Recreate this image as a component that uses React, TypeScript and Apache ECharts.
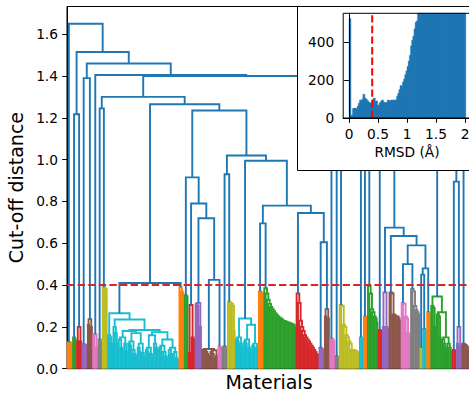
import React, { useEffect, useRef } from "react";
import * as echarts from "echarts";

type TreeNode = 0 | [number, TreeNode, TreeNode];

// ---------- data ----------
const THRESHOLD = 0.4;
const Y_MAX = 1.7325;
const Y_TICKS = [0, 0.2, 0.4, 0.6, 0.8, 1.0, 1.2, 1.4, 1.6];
const INSET_X_TICKS = [0, 0.5, 1, 1.5, 2];
const INSET_Y_TICKS = [0, 200, 400];
const INSET_Y_MAX = 552;
const HIST_BIN_START = 0;
const HIST_BIN_WIDTH = 0.02;
const HIST_COUNTS = [
  525, 12, 15, 50, 52, 50, 48, 62, 78, 95,
  88, 100, 125, 105, 100, 92, 85, 80, 78, 70,
  98, 105, 85, 90, 65, 68, 80, 88, 95, 85,
  78, 82, 80, 95, 92, 88, 95, 94, 90, 96,
  92, 115, 130, 150, 172, 162, 190, 205, 228, 248,
  272, 300, 330, 380, 410, 432, 470, 505, 512, 555,
  590, 620, 660, 700, 730, 770, 810, 840, 880, 910,
  950, 980, 1010, 1040, 1070, 1100, 1120, 1150, 1170, 1190,
  1210, 1230, 1240, 1250, 1260, 1270, 1270, 1280, 1280, 1280,
  1270, 1270, 1260, 1250, 1240, 1230, 1210, 1190, 1170, 1150,
];

const PALETTE = ["#ff7f0e", "#2ca02c", "#d62728", "#9467bd", "#8c564b", "#e377c2", "#7f7f7f", "#bcbd22", "#17becf"];
const ABOVE_COLOR = "#1f77b4";

// a staircase of merges: first height joins the leftmost leaf to the rest
function chain(heights: number[]): TreeNode {
  let node: TreeNode = 0;
  for (let i = heights.length - 1; i >= 0; i--) {
    node = i === heights.length - 1 ? [heights[i], 0, 0] : [heights[i], 0, node];
  }
  return node;
}

// clusters below the cut-off (left to right)
const orange1 = chain([0.127, 0.125, 0.12]);
const green1 = chain([0.15, 0.14]);
const red1: TreeNode = [0.2, [0.13, 0, 0], [0.13, 0, 0]];
const purple1 = chain([0.117, 0.115, 0.11]);
const brown1: TreeNode = [0.237, [0.21, 0, 0], [0.2, 0, 0]];
const pink1: TreeNode = [0.165, [0.16, 0, 0], [0.1, 0, 0]];
const gray1 = chain([0.14, 0.13]);
const olive1 = chain([0.39, 0.385, 0.38]);
const cyan1: TreeNode = [0.265,
  chain([0.16, 0.15, 0.12]),
  [0.235,
    chain([0.2, 0.17, 0.12]),
    [0.185,
      [0.18,
        [0.15, chain([0.14, 0.1, 0.09]), chain([0.12, 0.08])],
        [0.17, [0.13, chain([0.12, 0.11]), chain([0.09, 0.07, 0.06])], [0.12, chain([0.1, 0.08]), chain([0.075, 0.06])]]],
      [0.175,
        [0.16, [0.1, chain([0.09, 0.08]), chain([0.07, 0.06])], chain([0.12, 0.1, 0.09])],
        [0.14, [0.11, chain([0.1, 0.08]), chain([0.08, 0.06, 0.05])], [0.1, chain([0.09, 0.07, 0.06]), chain([0.08, 0.05, 0.04])]]]]]];
const orange2 = chain([0.39, 0.37, 0.36]);
const green2 = chain([0.35, 0.345]);
const red2: TreeNode = [0.305, [0.075, 0, 0], [0.15, 0, [0.14, 0, 0]]];
const purple2: TreeNode = [0.315, chain([0.31, 0.3]), [0.2, 0, 0]];
const brown2: TreeNode = [0.094, chain([0.09, 0.085, 0.08, 0.07, 0.06]), [0.088, chain([0.08, 0.07, 0.05]), [0.06, 0, 0]]];
const pink2 = chain([0.107, 0.1]);
const gray2: TreeNode = [0.107, [0.1, 0, 0], [0.09, 0, 0]];
const olive2 = chain([0.32, 0.315, 0.31, 0.3, 0.18]);
const cyan2: TreeNode = [0.24,
  [0.15, chain([0.14, 0.13]), chain([0.12, 0.1])],
  [0.21, [0.14, chain([0.13, 0.12]), chain([0.1, 0.09])], [0.12, chain([0.11, 0.1]), [0.1, 0, 0]]]];
const orange3 = chain([0.37, 0.365, 0.36]);
const green3 = chain([0.385, 0.36, 0.33, 0.31, 0.295, 0.285, 0.275, 0.265, 0.258, 0.25, 0.245, 0.24, 0.235, 0.23, 0.228, 0.225, 0.222, 0.22, 0.218, 0.215, 0.212, 0.21, 0.2]);
const red3 = chain([0.36, 0.315, 0.23, 0.2, 0.18, 0.16, 0.15, 0.14, 0.13, 0.12, 0.11, 0.1, 0.09, 0.08, 0.07, 0.065]);
const purple3 = chain([0.1, 0.095, 0.09]);
const brown3: TreeNode = [0.285, [0.25, 0, 0], [0.24, 0, 0]];
const pink3 = chain([0.145, 0.14, 0.13]);
const gray3 = chain([0.06, 0.055]);
const olive3 = chain([0.305, 0.3, 0.21, 0.2, 0.16, 0.15, 0.13, 0.12, 0.09, 0.09, 0.088, 0.085, 0.08, 0.075]);
const cyan3 = chain([0.15, 0.14]);
const orange4 = chain([0.25, 0.245]);
const green4 = chain([0.395, 0.36, 0.285, 0.27, 0.25, 0.24, 0.22]);
const red4 = chain([0.185, 0.18]);
const purple4: TreeNode = [0.365, [0.2, 0, 0], chain([0.2, 0.19])];
const brown4 = chain([0.365, 0.36, 0.26, 0.255, 0.25, 0.25, 0.24, 0.23]);
const pink4 = chain([0.315, 0.31, 0.25, 0.24, 0.17, 0.16]);
const gray4 = chain([0.38, 0.37, 0.3, 0.28, 0.27, 0.26]);
const olive4: TreeNode = [0.1, 0, 0];
const cyan4 = chain([0.19, 0.185]);
const orange5 = chain([0.27, 0.265]);
const green5: TreeNode = [0.345, chain([0.3, 0.29, 0.2]), [0.27, chain([0.26, 0.25, 0.15]), [0.15, chain([0.14, 0.12, 0.1]), chain([0.12, 0.1, 0.08])]]];
const red5 = chain([0.09, 0.085]);
const purple5: TreeNode = [0.2, [0.12, 0, 0], [0.11, 0, 0]];
const brown5 = chain([0.12, 0.115, 0.11, 0.1, 0.09, 0.08]);

// merges above the cut-off
const nodeP: TreeNode = [0.425, brown2, pink2];
const nodeO: TreeNode = [0.72, purple2, nodeP];
const nodeN: TreeNode = [0.79, red2, nodeO];
const nodeL: TreeNode = [0.915, green2, nodeN];
const nodeS: TreeNode = [0.93, gray2, olive2];
const nodeY: TreeNode = [0.605, purple3, brown3];
const nodeX: TreeNode = [0.745, red3, nodeY];
const nodeW: TreeNode = [0.695, orange3, green3];
const nodeV: TreeNode = [0.78, nodeW, nodeX];
const nodeT: TreeNode = [0.995, cyan2, nodeV];
const nodeM: TreeNode = [1.02, nodeS, nodeT];
const nodeK: TreeNode = [1.235, nodeL, nodeM];
const nodeJ: TreeNode = [0.41, cyan1, orange2];
const nodeI: TreeNode = [1.265, nodeJ, nodeK];
const nodeH: TreeNode = [1.245, gray1, olive1];
const nodeF: TreeNode = [1.3, nodeH, nodeI];
const nodeEE: TreeNode = [0.5, pink4, gray4];
const nodeDD: TreeNode = [0.48, [0.45, olive4, cyan4], orange5];
const nodeCC: TreeNode = [0.59, nodeEE, nodeDD];
const nodeBB: TreeNode = [0.635, brown4, nodeCC];
const nodeAA: TreeNode = [0.675, purple4, nodeBB];
const nodeFF: TreeNode = [0.895, red5, purple5];
const nodeG3: TreeNode = [1.25,
  [1.15, [1.05, cyan3, orange4], [1.0, green4, red4]],
  [1.2, nodeAA, [1.1, green5, [1.0, nodeFF, brown5]]]];
const nodeG: TreeNode = [1.38, pink3, [1.3, [1.2, gray3, olive3], nodeG3]];
const nodeE: TreeNode = [1.4, nodeF, nodeG];
const nodeD: TreeNode = [1.405, pink1, nodeE];
const nodeC: TreeNode = [1.39, purple1, brown1];
const nodeB: TreeNode = [1.46, nodeC, nodeD];
const nodeA: TreeNode = [1.217, green1, red1];
const nodeR1: TreeNode = [1.515, nodeA, nodeB];
const ROOT: TreeNode = [1.65, orange1, nodeR1];

function layoutTree(root: TreeNode) {
  const links: number[][] = [];
  let leafIndex = 0;
  let clusterCount = 0;
  function walk(node: TreeNode, colorIdx: number): { x: number; y: number } {
    if (node === 0) {
      const x = leafIndex + 0.5;
      leafIndex++;
      return { x, y: 0 };
    }
    const [h, l, r] = node;
    let c = colorIdx;
    if (h < THRESHOLD && c < 0) {
      c = clusterCount % PALETTE.length;
      clusterCount++;
    }
    const a = walk(l, c);
    const b = walk(r, c);
    links.push([a.x, a.y, b.x, b.y, h, h < THRESHOLD ? c : -1]);
    return { x: (a.x + b.x) / 2, y: h };
  }
  walk(root, -1);
  return { links, n: leafIndex };
}

const FONT = "DejaVu Sans";

export default function App() {
  const ref = useRef<HTMLDivElement>(null);
  useEffect(() => {
    if (!ref.current) return;
    const chart = echarts.init(ref.current, null, { renderer: "svg" });
    const { links, n } = layoutTree(ROOT);
    const histData = HIST_COUNTS.map((c, i) => [HIST_BIN_START + i * HIST_BIN_WIDTH, c]);

    const option: any = {
      animation: false,
      backgroundColor: "#fff",
      textStyle: { fontFamily: FONT, color: "#000" },
      grid: [
        { left: 67, right: -2, top: 6.5, bottom: 25.3, outerBoundsMode: "none", containLabel: false, show: true, borderColor: "#000", borderWidth: 1, backgroundColor: "transparent" },
        { left: 343.2, right: -1.8, top: 13.3, bottom: 276, outerBoundsMode: "none", containLabel: false, show: true, borderColor: "#000", borderWidth: 1, backgroundColor: "transparent", z: 65 },
      ],
      xAxis: [
        {
          type: "value", gridIndex: 0, min: 0, max: n,
          axisLine: { show: true, lineStyle: { color: "#000", width: 1 } },
          axisTick: { show: false }, axisLabel: { show: false }, splitLine: { show: false },
          name: "Materials", nameLocation: "middle", nameGap: 4,
          nameTextStyle: { fontFamily: FONT, fontSize: 19, color: "#000" },
        },
        {
          type: "value", gridIndex: 1, min: -0.1, max: 2.1, z: 61,
          axisLine: { show: true, lineStyle: { color: "#000", width: 1 } },
          axisTick: { show: true, length: 4.8, customValues: INSET_X_TICKS, lineStyle: { color: "#000", width: 1 } },
          axisLabel: {
            customValues: INSET_X_TICKS, margin: 8.5, fontSize: 13.75, fontFamily: FONT, color: "#000",
            formatter: (v: number) => String(+(+v).toFixed(2)),
          },
          splitLine: { show: false },
          name: "RMSD (Å)", nameLocation: "middle", nameGap: 27,
          nameTextStyle: { fontFamily: FONT, fontSize: 13.75, color: "#000" },
        },
      ],
      yAxis: [
        {
          type: "value", gridIndex: 0, min: 0, max: Y_MAX, interval: 0.2,
          axisLine: { show: true, lineStyle: { color: "#000", width: 1 } },
          axisTick: { show: true, length: 4.8, customValues: Y_TICKS, lineStyle: { color: "#000", width: 1 } },
          axisLabel: {
            customValues: Y_TICKS, margin: 9, fontSize: 13.75, fontFamily: FONT, color: "#000",
            formatter: (v: number) => (+v).toFixed(1),
          },
          splitLine: { show: false },
          name: "Cut-off distance", nameLocation: "middle", nameGap: 37, nameRotate: 90,
          nameTextStyle: { fontFamily: FONT, fontSize: 19, color: "#000" },
        },
        {
          type: "value", gridIndex: 1, min: 0, max: INSET_Y_MAX, interval: 200, z: 61,
          axisLine: { show: true, lineStyle: { color: "#000", width: 1 } },
          axisTick: { show: true, length: 4.8, customValues: INSET_Y_TICKS, lineStyle: { color: "#000", width: 1 } },
          axisLabel: {
            customValues: INSET_Y_TICKS, margin: 9, fontSize: 13.75, fontFamily: FONT, color: "#000",
          },
          splitLine: { show: false },
        },
      ],
      graphic: [
        {
          type: "rect", z: 50, silent: true,
          shape: { x: 297.5, y: 6.5, width: 190, height: 164 },
          style: { fill: "#fff", stroke: "#000", lineWidth: 1 },
        },
      ],
      series: [
        {
          type: "custom",
          xAxisIndex: 0, yAxisIndex: 0,
          silent: true, z: 3,
          data: links,
          renderItem: (_p: any, api: any) => {
            const xl = api.value(0), yl = api.value(1), xr = api.value(2), yr = api.value(3), h = api.value(4), ci = api.value(5);
            const pts = [api.coord([xl, yl]), api.coord([xl, h]), api.coord([xr, h]), api.coord([xr, yr])];
            return {
              type: "polyline",
              shape: { points: pts },
              style: { stroke: ci < 0 ? ABOVE_COLOR : PALETTE[ci], lineWidth: 1.9, fill: null },
            };
          },
        },
        {
          type: "line", xAxisIndex: 0, yAxisIndex: 0, silent: true, z: 4,
          symbol: "none",
          data: [[0, THRESHOLD], [n, THRESHOLD]],
          lineStyle: { color: "#d62728", width: 2, type: [7.4, 3.2] },
        },
        {
          type: "custom", xAxisIndex: 1, yAxisIndex: 1, silent: true, z: 60,
          data: histData,
          renderItem: (_p: any, api: any) => {
            const x0 = api.value(0), c = api.value(1);
            const top = Math.min(c, INSET_Y_MAX);
            const p0 = api.coord([x0, top]);
            const p1 = api.coord([x0 + HIST_BIN_WIDTH, 0]);
            return {
              type: "rect",
              shape: { x: p0[0], y: p0[1], width: p1[0] - p0[0] + 0.8, height: p1[1] - p0[1] },
              style: { fill: ABOVE_COLOR, stroke: ABOVE_COLOR, lineWidth: 0.4 },
            };
          },
        },
        {
          type: "line", xAxisIndex: 1, yAxisIndex: 1, silent: true, z: 62,
          symbol: "none",
          data: [[THRESHOLD, 0], [THRESHOLD, INSET_Y_MAX]],
          lineStyle: { color: "#ff0000", width: 2, type: [7.4, 3.2] },
        },
      ],
    };
    chart.setOption(option);
    return () => chart.dispose();
  }, []);
  return (
    <div style={{ position: "fixed", left: 0, top: 0, width: 469, height: 394, background: "#fff" }}>
      <div ref={ref} style={{ width: 469, height: 394 }} />
    </div>
  );
}
